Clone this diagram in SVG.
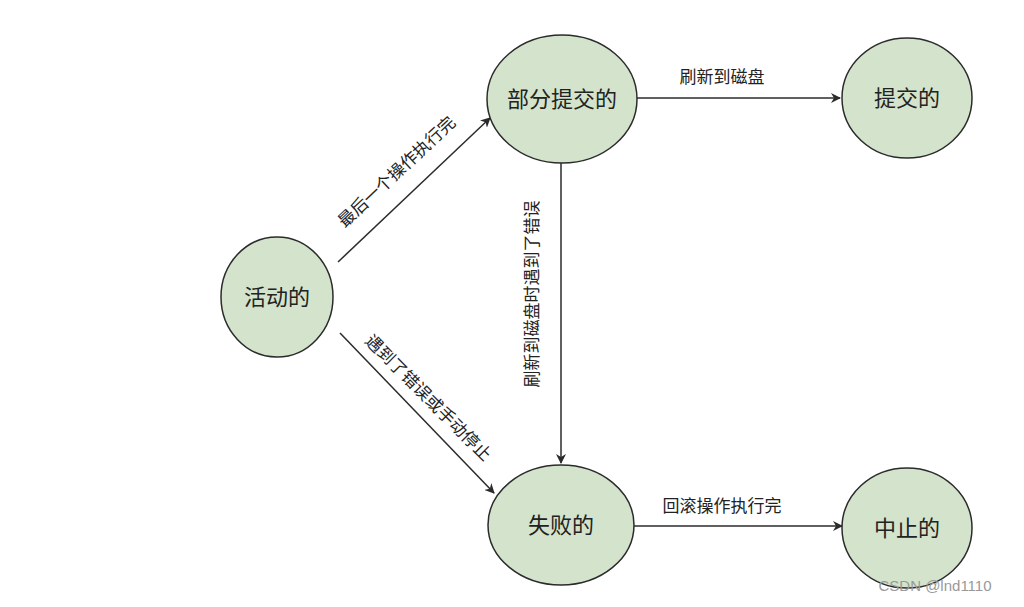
<svg xmlns="http://www.w3.org/2000/svg" width="1024" height="607" viewBox="0 0 1024 607">
<style>
.n{fill:#d4e4cc;stroke:#2b2b2b;stroke-width:1.5}
.t{font-family:"Liberation Sans","Noto Sans CJK SC",sans-serif;font-size:22px;fill:#222;text-anchor:middle;dominant-baseline:central}
.l{font-family:"Liberation Sans","Noto Sans CJK SC",sans-serif;font-size:17px;fill:#222;text-anchor:middle;dominant-baseline:central}
.e{stroke:#2b2b2b;stroke-width:1.5;fill:none;marker-end:url(#a)}
</style>
<defs><marker id="a" viewBox="0 0 10 10" refX="9" refY="5" markerWidth="10" markerHeight="10" orient="auto" markerUnits="userSpaceOnUse"><path d="M0,0L10,5L0,10L3,5z" fill="#2b2b2b"/></marker></defs>
<rect width="1024" height="607" fill="#fff"/>
<g id="edges">
<line class="e" x1="338" y1="262" x2="490" y2="118"/>
<line class="e" x1="340" y1="333" x2="494" y2="493"/>
<line class="e" x1="561" y1="163" x2="561" y2="463"/>
<line class="e" x1="637" y1="98" x2="840" y2="98"/>
<line class="e" x1="634" y1="526" x2="842" y2="526"/>
<text class="l" transform="translate(397,172) rotate(-43)">最后一个操作执行完</text>
<text class="l" transform="translate(428,398) rotate(45)">遇到了错误或手动停止</text>
<text class="l" transform="translate(532,294) rotate(-90)">刷新到磁盘时遇到了错误</text>
<text class="l" x="722" y="77">刷新到磁盘</text>
<text class="l" x="722" y="506">回滚操作执行完</text>
</g>
<g id="active"><ellipse class="n" cx="277" cy="297" rx="56" ry="60"/><text class="t" x="277" y="297">活动的</text></g>
<g id="partial"><ellipse class="n" cx="562" cy="99" rx="75" ry="64"/><text class="t" x="562" y="99">部分提交的</text></g>
<g id="committed"><ellipse class="n" cx="907" cy="98" rx="65" ry="60"/><text class="t" x="907" y="98">提交的</text></g>
<g id="failed"><ellipse class="n" cx="561" cy="525" rx="73" ry="60"/><text class="t" x="561" y="525">失败的</text></g>
<g id="aborted"><ellipse class="n" cx="907" cy="528" rx="65" ry="60"/><text class="t" x="907" y="528">中止的</text></g>
<text x="935" y="591" font-family="Liberation Sans,sans-serif" font-size="15" fill="#999" text-anchor="middle">CSDN @lnd1110</text>
</svg>
